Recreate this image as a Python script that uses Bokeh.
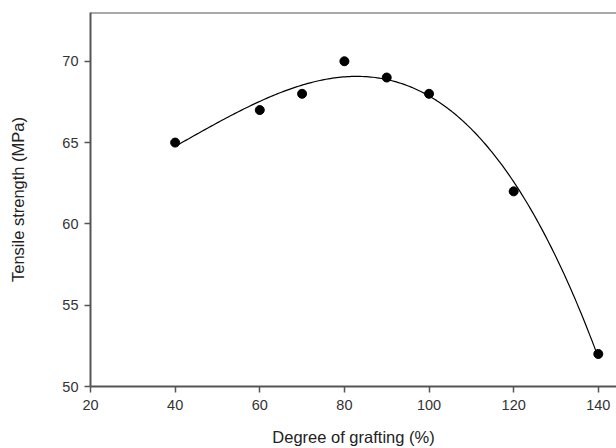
import numpy as np
from bokeh.plotting import figure
from bokeh.models import ColumnDataSource, Span, FixedTicker
from bokeh.embed import file_html
from bokeh.resources import INLINE

# Data
grafting = [40, 60, 70, 80, 90, 100, 120, 140]
tensile = [65, 67, 68, 70, 69, 68, 62, 52]
x_ticks = [20, 40, 60, 80, 100, 120, 140]
y_ticks = [50, 55, 60, 65, 70]

# Cubic regression line through the measured points (as in the original figure)
coef = np.polyfit(grafting, tensile, 3)
fit_x = np.linspace(min(grafting), max(grafting), 200)
fit_y = np.polyval(coef, fit_x)

FONT = "Liberation Sans"
AXIS_COLOR = "#555555"

p = figure(width=616, height=448, output_backend="svg", toolbar_location=None,
           x_range=(20, 144.3), y_range=(50, 73.0),
           min_border_left=90, min_border_right=0, min_border_top=12, min_border_bottom=0)

p.line(fit_x, fit_y, line_color="black", line_width=1.2)
src = ColumnDataSource(dict(x=grafting, y=tensile))
p.scatter("x", "y", source=src, size=9, fill_color="black", line_color="black")

p.grid.visible = False
p.outline_line_color = None
p.add_layout(Span(location=73.0, dimension="width", line_color=AXIS_COLOR, line_width=2))

for ax in (p.xaxis[0], p.yaxis[0]):
    ax.axis_line_color = AXIS_COLOR
    ax.axis_line_width = 2
    ax.major_tick_line_color = AXIS_COLOR
    ax.major_tick_line_width = 1.5
    ax.major_tick_out = 6
    ax.major_tick_in = 0
    ax.minor_tick_line_color = None
    ax.major_label_text_font = FONT
    ax.major_label_text_font_size = "14.5px"
    ax.major_label_text_color = "#333333"
    ax.axis_label_text_font = FONT
    ax.axis_label_text_font_size = "16.5px"
    ax.axis_label_text_font_style = "normal"
    ax.axis_label_text_color = "#222222"

p.xaxis.ticker = FixedTicker(ticks=x_ticks)
p.yaxis.ticker = FixedTicker(ticks=y_ticks)
p.xaxis.axis_label = "Degree of grafting (%)"
p.yaxis.axis_label = "Tensile strength (MPa)"
p.xaxis.major_label_standoff = 7
p.xaxis.axis_label_standoff = 15
p.yaxis.major_label_standoff = 6
p.yaxis.axis_label_standoff = 32

open("out.html", "w").write(file_html(p, INLINE))
